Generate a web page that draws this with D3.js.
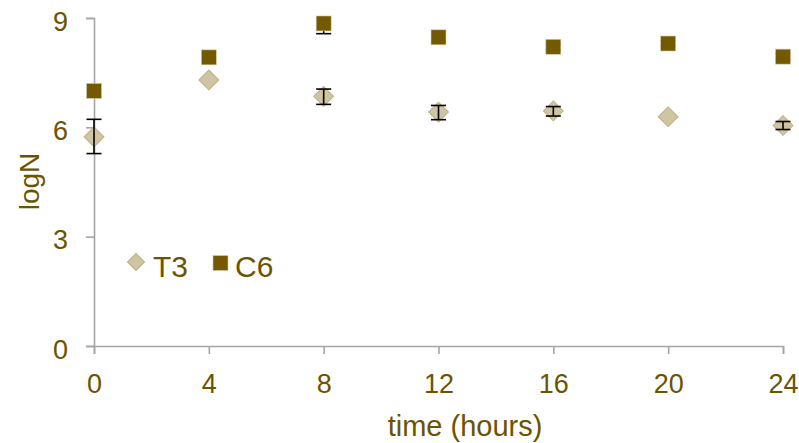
<!DOCTYPE html>
<html>
<head>
<meta charset="utf-8">
<script src="https://cdn.jsdelivr.net/npm/d3@7"></script>
<style>
body { margin:0; background:#fff; }
.chart text { font-family: Arial, "Liberation Sans", sans-serif; fill:#6b5300; }
</style>
</head>
<body>
<div class="chart"></div>
<script>
const hours = [0, 4, 8, 12, 16, 20, 24];
const t3 = [5.74, 7.30, 6.85, 6.42, 6.45, 6.29, 6.05];
const t3ErrUp = [0.48, 0, 0.20, 0.18, 0.12, 0, 0.11];
const t3ErrDown = [0.46, 0, 0.22, 0.21, 0.14, 0, 0.11];
const c6 = [7.00, 7.92, 8.85, 8.47, 8.21, 8.30, 7.94];
const c6ErrUp = [0, 0, 0, 0.08, 0.08, 0.08, 0.08];
const c6ErrDown = [0, 0, 0.28, 0.08, 0.08, 0.08, 0.08];
const xTicks = [0, 4, 8, 12, 16, 20, 24];
const yTicks = [0, 3, 6, 9];

const t3Data = hours.map((h,i)=>({x:h, y:t3[i], up:t3ErrUp[i], down:t3ErrDown[i]}));
const c6Data = hours.map((h,i)=>({x:h, y:c6[i], up:c6ErrUp[i], down:c6ErrDown[i]}));

const width = 799, height = 443;
const svg = d3.select('.chart').append('svg')
    .attr('width', width)
    .attr('height', height);

const x = d3.scaleLinear().domain([0, 24]).range([94, 783]);
const y = d3.scaleLinear().domain([0, 9]).range([346, 18]);

const axisColor = '#a6a6a6';

const xAxis = svg.append('g')
    .attr('transform', `translate(0, ${y(0)})`)
    .call(d3.axisBottom(x).tickValues(xTicks).tickSize(8).tickSizeOuter(8).tickFormat(d3.format('d')));
xAxis.selectAll('text')
    .attr('y', 47).attr('dy', 0)
    .attr('font-size', '27px');

const yAxis = svg.append('g')
    .attr('transform', `translate(${x(0)}, 0)`)
    .call(d3.axisLeft(y).tickValues(yTicks).tickSize(8).tickSizeOuter(8).tickFormat(d3.format('d')));
yAxis.selectAll('text')
    .attr('x', -26).attr('dy', '0.45em')
    .attr('font-size', '27px');

svg.selectAll('.domain, .tick line')
    .attr('stroke', axisColor)
    .attr('stroke-width', 1.6);

svg.append('text')
    .attr('x', 465)
    .attr('y', 436)
    .attr('text-anchor', 'middle')
    .attr('font-size', '29px')
    .text('time (hours)');

svg.append('text')
    .attr('transform', 'translate(38.5, 181.5) rotate(-90)')
    .attr('text-anchor', 'middle')
    .attr('font-size', '28px')
    .text('logN');

function errorBars(data) {
    const g = svg.append('g').attr('stroke', '#000').attr('stroke-width', 1.6);
    const withErr = data.filter(d=>d.up > 0 || d.down > 0);
    g.selectAll('.stem').data(withErr).enter().append('line')
        .attr('x1', d=>x(d.x)).attr('x2', d=>x(d.x))
        .attr('y1', d=>y(d.y + d.up)).attr('y2', d=>y(d.y - d.down));
    g.selectAll('.capUp').data(withErr.filter(d=>d.up > 0)).enter().append('line')
        .attr('x1', d=>x(d.x)-7.5).attr('x2', d=>x(d.x)+7.5)
        .attr('y1', d=>y(d.y + d.up)).attr('y2', d=>y(d.y + d.up));
    g.selectAll('.capDown').data(withErr.filter(d=>d.down > 0)).enter().append('line')
        .attr('x1', d=>x(d.x)-7.5).attr('x2', d=>x(d.x)+7.5)
        .attr('y1', d=>y(d.y - d.down)).attr('y2', d=>y(d.y - d.down));
}

const diamondFill = '#cfc5a3', diamondStroke = '#bcaf88';
const squareFill = '#735a00', squareStroke = '#d6ccb0';

// T3 diamonds
svg.append('g').selectAll('rect').data(t3Data).enter().append('rect')
    .attr('x', -7).attr('y', -7).attr('width', 14).attr('height', 14)
    .attr('transform', d=>`translate(${x(d.x)},${y(d.y)}) rotate(45)`)
    .attr('fill', diamondFill)
    .attr('stroke', diamondStroke)
    .attr('stroke-width', 1);
errorBars(t3Data);

// C6 squares
errorBars(c6Data);
svg.append('g').selectAll('rect').data(c6Data).enter().append('rect')
    .attr('x', d=>x(d.x)-7.5).attr('y', d=>y(d.y)-7.5)
    .attr('width', 15).attr('height', 15)
    .attr('fill', squareFill)
    .attr('stroke', squareStroke)
    .attr('stroke-width', 0.6);

// legend
svg.append('rect')
    .attr('x', -6).attr('y', -6).attr('width', 12).attr('height', 12)
    .attr('transform', 'translate(136, 262) rotate(45)')
    .attr('fill', diamondFill)
    .attr('stroke', diamondStroke);
svg.append('text').attr('x', 153).attr('y', 277).attr('font-size', '30px').text('T3');
svg.append('rect')
    .attr('x', 213).attr('y', 255.5).attr('width', 15).attr('height', 15)
    .attr('fill', squareFill)
    .attr('stroke', squareStroke)
    .attr('stroke-width', 0.6);
svg.append('text').attr('x', 235).attr('y', 277).attr('font-size', '30px').text('C6');
</script>
</body>
</html>
